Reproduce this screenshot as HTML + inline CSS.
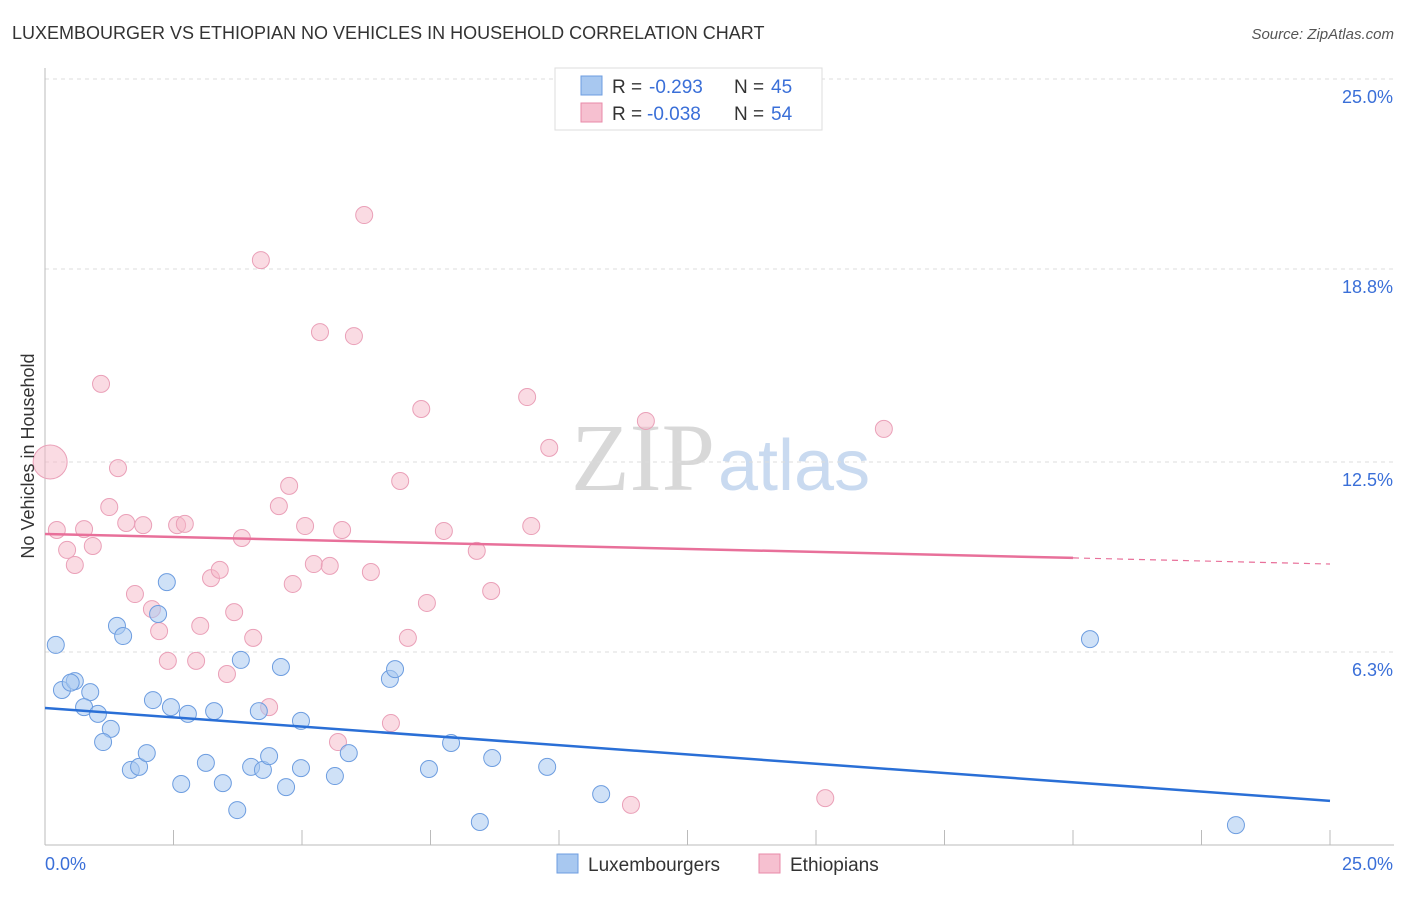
<!DOCTYPE html>
<html><head><meta charset="utf-8"><style>
body{margin:0;background:#fff;font-family:"Liberation Sans",sans-serif;}
svg text{font-family:"Liberation Sans",sans-serif;}
</style></head><body>
<svg id="chart" width="1406" height="892">
<text x="12" y="39" font-size="18" fill="#333">LUXEMBOURGER VS ETHIOPIAN NO VEHICLES IN HOUSEHOLD CORRELATION CHART</text>
<text x="1394" y="39" font-size="15" fill="#555" font-style="italic" text-anchor="end">Source: ZipAtlas.com</text>
<text x="715" y="490" font-size="96" fill="#d8d8d8" text-anchor="end" style="font-family:'Liberation Serif',serif">ZIP</text>
<text x="718" y="490" font-size="72" fill="#c9daf0">atlas</text>
<g id="grid"></g>
<g id="marks"></g>
<text transform="translate(34,456) rotate(-90)" font-size="18" fill="#333" text-anchor="middle">No Vehicles in Household</text>
<g>
<rect x="555" y="68" width="267" height="62" fill="#fff" stroke="#ddd"/>
<rect x="581" y="76" width="21" height="19" fill="#a8c8f0" stroke="#6d9de0"/>
<rect x="581" y="103" width="21" height="19" fill="#f6c0d0" stroke="#e88aa8"/>
<text x="612" y="93" font-size="19" fill="#333">R =</text>
<text x="649" y="93" font-size="19" fill="#3a6fd8">-0.293</text>
<text x="734" y="93" font-size="19" fill="#333">N =</text>
<text x="771" y="93" font-size="19" fill="#3a6fd8">45</text>
<text x="612" y="120" font-size="19" fill="#333">R =</text>
<text x="647" y="120" font-size="19" fill="#3a6fd8">-0.038</text>
<text x="734" y="120" font-size="19" fill="#333">N =</text>
<text x="771" y="120" font-size="19" fill="#3a6fd8">54</text>
</g>
<g>
<rect x="557" y="854" width="21" height="19" fill="#a8c8f0" stroke="#6d9de0"/>
<text x="588" y="871" font-size="19" fill="#333">Luxembourgers</text>
<rect x="759" y="854" width="21" height="19" fill="#f6c0d0" stroke="#e88aa8"/>
<text x="790" y="871" font-size="19" fill="#333">Ethiopians</text>
</g>
</svg>
<script>
const xTicks=[0,2.5,5,7.5,10,12.5,15,17.5,20,22.5,25];
const yTicks=[25,18.8,12.5,6.3];
const yTickLabels=["25.0%","18.8%","12.5%","6.3%"];
const luxX=[0.21,0.33,0.58,0.88,0.76,1.03,1.28,1.13,1.67,1.83,1.98,1.40,1.52,2.20,2.37,2.10,2.45,2.78,2.65,3.13,3.29,3.46,3.74,3.81,4.01,4.24,4.16,4.36,4.59,4.69,4.98,4.98,5.64,5.91,6.71,6.81,7.90,7.47,8.46,8.70,9.77,10.82,20.33,23.17,0.50];
const luxY=[6.53,5.06,5.35,4.99,4.50,4.28,3.79,3.36,2.45,2.55,3.00,7.15,6.82,7.54,8.58,4.73,4.50,4.28,1.99,2.68,4.37,2.02,1.14,6.04,2.55,2.45,4.37,2.90,5.81,1.89,4.05,2.51,2.25,3.00,5.42,5.74,3.33,2.48,0.75,2.84,2.55,1.66,6.72,0.65,5.30];
const ethX=[0.10,0.23,0.43,0.58,0.76,0.93,1.09,1.25,1.42,1.58,1.75,1.91,2.08,2.22,2.39,2.57,2.72,2.94,3.02,3.23,3.40,3.54,3.68,3.83,4.05,4.20,4.36,4.55,4.75,4.82,5.06,5.23,5.35,5.54,5.78,5.70,6.01,6.21,6.34,6.73,6.91,7.32,7.43,7.06,7.76,8.40,8.68,9.38,9.46,9.81,11.40,11.69,15.18,16.32];
const ethY=[12.50,10.28,9.63,9.14,10.31,9.76,15.05,11.03,12.30,10.51,8.19,10.44,7.70,6.98,6.01,10.44,10.48,6.01,7.15,8.71,8.98,5.58,7.60,10.02,6.76,19.09,4.50,11.06,11.72,8.52,10.41,9.17,16.74,9.11,10.28,3.36,16.61,20.56,8.91,3.98,11.88,14.23,7.90,6.76,10.25,9.60,8.29,14.62,10.41,12.96,1.31,13.84,1.53,13.58];
const luxTrend=[4.47,1.44];
const ethTrend=[10.15,9.37,9.17];
const X=v=>45+v*51.4, Y=v=>845-v*30.64;
const NS="http://www.w3.org/2000/svg";
function mk(tag,attrs,parent){const e=document.createElementNS(NS,tag);for(const k in attrs)e.setAttribute(k,attrs[k]);parent.appendChild(e);return e;}
const grid=document.getElementById('grid'), marks=document.getElementById('marks');
yTicks.forEach((t,i)=>{
 const l=mk('line',{x1:45,x2:1394,y1:Y(t),y2:Y(t),stroke:'#ddd','stroke-dasharray':'4,4'},grid);
 
 
 const tx=mk('text',{x:1393,y:Y(t)+24,'font-size':18,fill:'#3a6fd8','text-anchor':'end'},grid);
 tx.textContent=yTickLabels[i];
 
 
});
const ax=mk('line',{x1:45,x2:45,y1:68,y2:845,stroke:'#bbb'},grid);


const bx=mk('line',{x1:45,x2:1394,y1:845,y2:845,stroke:'#bbb'},grid);


xTicks.forEach(t=>{
 const l=mk('line',{x1:X(t),x2:X(t),y1:830,y2:845,stroke:'#bbb'},grid);
 
 
});
const xl0=mk('text',{x:45,y:870,'font-size':18,fill:'#3a6fd8'},grid);xl0.textContent='0.0%';


const xl1=mk('text',{x:1393,y:870,'font-size':18,fill:'#3a6fd8','text-anchor':'end'},grid);xl1.textContent='25.0%';


ethX.forEach((x,i)=>{
 const c=mk('circle',{cx:X(x),cy:Y(ethY[i]),r:i===0?17:8.5,fill:'rgba(246,184,200,0.5)',stroke:'#eaa0b8','stroke-width':1},marks);
 
 
});
luxX.forEach((x,i)=>{
 const c=mk('circle',{cx:X(x),cy:Y(luxY[i]),r:8.5,fill:'rgba(168,200,240,0.55)',stroke:'#6d9de0','stroke-width':1},marks);
 
 
});
const lt=mk('line',{x1:X(0),y1:Y(luxTrend[0]),x2:X(25),y2:Y(luxTrend[1]),stroke:'#2a6fd6','stroke-width':2.5},marks);


const et=mk('line',{x1:X(0),y1:Y(ethTrend[0]),x2:X(20),y2:Y(ethTrend[1]),stroke:'#e8709a','stroke-width':2.5},marks);


const ed=mk('line',{x1:X(20),y1:Y(ethTrend[1]),x2:X(25),y2:Y(ethTrend[2]),stroke:'#e8709a','stroke-width':1.2,'stroke-dasharray':'6,5'},marks);


</script>
</body></html>
